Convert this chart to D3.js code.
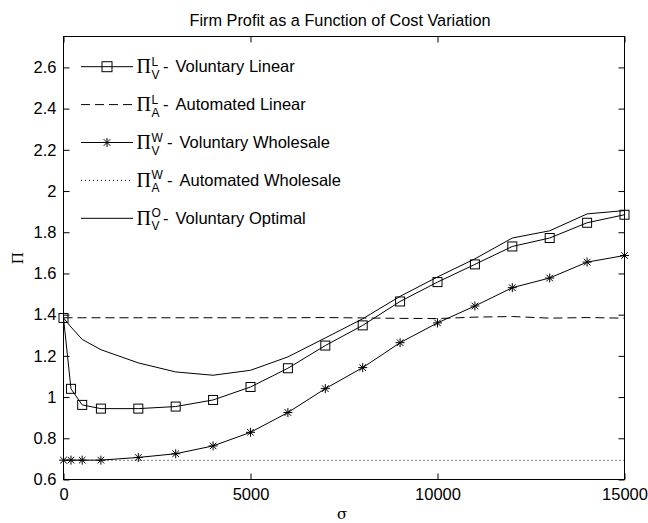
<!DOCTYPE html>
<html>
<head>
<meta charset="utf-8">
<script src="https://cdn.jsdelivr.net/npm/d3@7"></script>
<style>
  body { margin: 0; background: #fff; }
  text { font-family: "Liberation Sans", Arial, sans-serif; }
</style>
</head>
<body>
<svg id="chart" width="648" height="523"></svg>
<script>
// sigma (cost variation) sample points
const sigma = [0, 200, 500, 1000, 2000, 3000, 4000, 5000, 6000, 7000, 8000, 9000, 10000, 11000, 12000, 13000, 14000, 15000];

// profit series
const volLinear = [1.384, 1.04, 0.962, 0.944, 0.944, 0.954, 0.986, 1.049, 1.14, 1.25, 1.348, 1.464, 1.558, 1.644, 1.731, 1.772, 1.846, 1.885];
const autoLinear = [1.385, 1.385, 1.385, 1.385, 1.385, 1.385, 1.385, 1.385, 1.385, 1.386, 1.384, 1.382, 1.381, 1.388, 1.391, 1.383, 1.386, 1.383];
const volWholesale = [0.694, 0.694, 0.694, 0.694, 0.707, 0.725, 0.763, 0.829, 0.925, 1.041, 1.143, 1.264, 1.36, 1.442, 1.531, 1.578, 1.655, 1.687];
const autoWholesale = [0.693, 0.693, 0.693, 0.693, 0.693, 0.693, 0.693, 0.693, 0.693, 0.693, 0.693, 0.693, 0.693, 0.693, 0.693, 0.693, 0.693, 0.693];
const volOptimal = [1.384, 1.34, 1.28, 1.23, 1.166, 1.122, 1.106, 1.13, 1.195, 1.287, 1.38, 1.489, 1.583, 1.671, 1.772, 1.807, 1.889, 1.905];

const xTicks = [0, 5000, 10000, 15000];
const yTicks = [0.6, 0.8, 1, 1.2, 1.4, 1.6, 1.8, 2, 2.2, 2.4, 2.6];

const legendItems = [
  { sup: "L", sub: "V", label: "Voluntary Linear", dash: null, marker: "square" },
  { sup: "L", sub: "A", label: "Automated Linear", dash: "9,5", marker: null },
  { sup: "W", sub: "V", label: "Voluntary Wholesale", dash: null, marker: "star" },
  { sup: "W", sub: "A", label: "Automated Wholesale", dash: "1,3", marker: null },
  { sup: "O", sub: "V", label: "Voluntary Optimal", dash: null, marker: null }
];

const svg = d3.select("#chart");
const mLeft = 63.5, mRight = 624.5, mTop = 36.5, mBottom = 479.5;

const x = d3.scaleLinear().domain([0, 15000]).range([mLeft, mRight]);
const y = d3.scaleLinear().domain([0.6, 2.75]).range([mBottom, mTop]);

// axes box
svg.append("rect")
  .attr("x", mLeft).attr("y", mTop)
  .attr("width", mRight - mLeft).attr("height", mBottom - mTop)
  .attr("fill", "none").attr("stroke", "#000").attr("stroke-width", 1);

const tickLen = 6;
const axisStyle = (g) => {
  g.select(".domain").remove();
  g.selectAll("line").attr("stroke", "#000");
  g.selectAll("text").attr("font-size", 16.5).attr("fill", "#000")
    .style("font-family", "'Liberation Sans', sans-serif");
};

svg.append("g").attr("transform", `translate(0,${mBottom})`)
  .call(d3.axisBottom(x).tickValues(xTicks).tickSize(-tickLen).tickPadding(9).tickFormat(d3.format("d")))
  .call(axisStyle);
svg.append("g").attr("transform", `translate(0,${mTop})`)
  .call(d3.axisTop(x).tickValues(xTicks).tickSize(-tickLen).tickFormat(""))
  .call(axisStyle);
svg.append("g").attr("transform", `translate(${mLeft},0)`)
  .call(d3.axisLeft(y).tickValues(yTicks).tickSize(-tickLen).tickPadding(7).tickFormat(d => String(+d.toFixed(1))))
  .call(axisStyle);
svg.append("g").attr("transform", `translate(${mRight},0)`)
  .call(d3.axisRight(y).tickValues(yTicks).tickSize(-tickLen).tickFormat(""))
  .call(axisStyle);

// title and labels
svg.append("text").attr("x", 340).attr("y", 26)
  .attr("text-anchor", "middle").attr("font-size", 16.3).text("Firm Profit as a Function of Cost Variation");
svg.append("text").attr("x", 342).attr("y", 519)
  .attr("text-anchor", "middle").attr("font-size", 15)
  .style("font-family", "'DejaVu Serif', serif").text("σ");
svg.append("text").attr("transform", `translate(23,${(mTop + mBottom) / 2}) rotate(-90)`)
  .attr("text-anchor", "middle").attr("font-size", 17)
  .style("font-family", "'Liberation Serif', serif").text("Π");

const line = d3.line().x((d, i) => x(sigma[i])).y(d => y(d));

const plot = svg.append("g");

const drawLine = (data, dash) => {
  plot.append("path").datum(data)
    .attr("fill", "none").attr("stroke", "#000").attr("stroke-width", 1)
    .attr("stroke-dasharray", dash)
    .attr("d", line);
};

drawLine(volLinear, null);
drawLine(autoLinear, "9,5");
drawLine(volWholesale, null);
drawLine(autoWholesale, "1,3");
drawLine(volOptimal, null);

const drawSquare = (g, cx, cy, s) => {
  g.append("rect").attr("x", cx - s / 2).attr("y", cy - s / 2).attr("width", s).attr("height", s)
    .attr("fill", "none").attr("stroke", "#000").attr("stroke-width", 1);
};
const drawStar = (g, cx, cy) => {
  const r = 4.5, d = 3.3;
  const p = `M${cx - r},${cy}L${cx + r},${cy}M${cx},${cy - r}L${cx},${cy + r}` +
    `M${cx - d},${cy - d}L${cx + d},${cy + d}M${cx - d},${cy + d}L${cx + d},${cy - d}`;
  g.append("path").attr("d", p).attr("stroke", "#000").attr("stroke-width", 1).attr("fill", "none");
};

volLinear.forEach((v, i) => drawSquare(plot, x(sigma[i]), y(v), 9));
volWholesale.forEach((v, i) => drawStar(plot, x(sigma[i]), y(v)));

// legend (no box)
const legend = svg.append("g");
const legY0 = 66.7, legStep = 37.9, lx1 = 81, lx2 = 133;
legendItems.forEach((it, i) => {
  const ly = legY0 + i * legStep;
  legend.append("line").attr("x1", lx1).attr("x2", lx2).attr("y1", ly).attr("y2", ly)
    .attr("stroke", "#000").attr("stroke-width", 1).attr("stroke-dasharray", it.dash);
  if (it.marker === "square") drawSquare(legend, (lx1 + lx2) / 2, ly, 10);
  if (it.marker === "star") drawStar(legend, (lx1 + lx2) / 2, ly);
  legend.append("text").attr("x", 136.5).attr("y", ly + 6.5)
    .style("font-family", "'Liberation Serif', serif").attr("font-size", 20).text("Π");
  legend.append("text").attr("x", 151.5).attr("y", ly - 1).attr("font-size", 12).text(it.sup);
  legend.append("text").attr("x", 151.5).attr("y", ly + 12).attr("font-size", 12).text(it.sub);
  const dashX = it.sup === "W" ? 167 : 163;
  legend.append("text").attr("x", dashX).attr("y", ly + 5.5).attr("font-size", 16.5).text("-");
  legend.append("text").attr("x", dashX + 12.5).attr("y", ly + 5.5).attr("font-size", 16.5).text(it.label);
});
</script>
</body>
</html>
